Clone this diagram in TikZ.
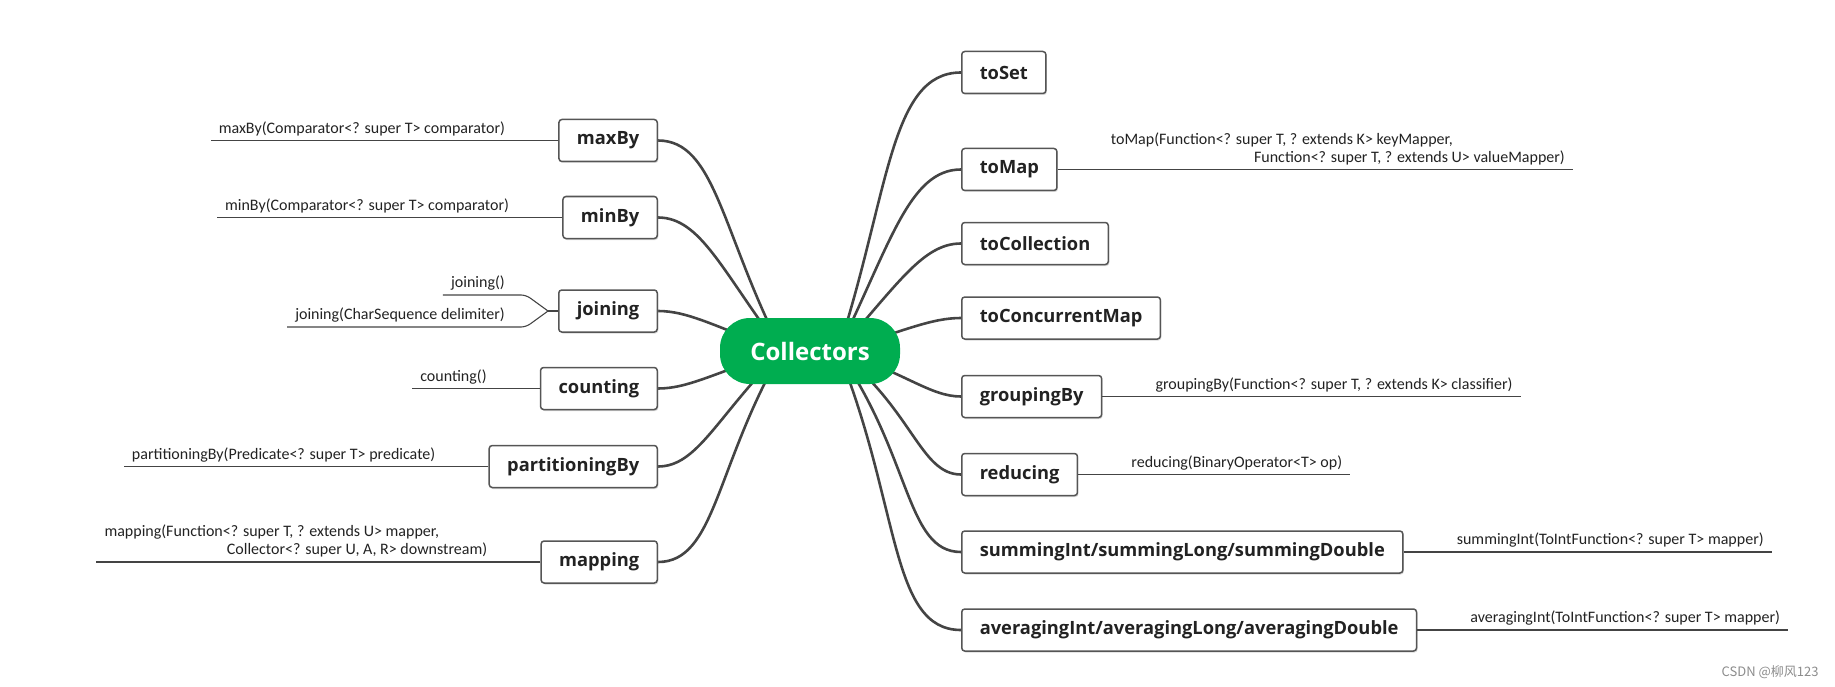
\documentclass[tikz,border=0pt]{standalone}
\usepackage{fontspec}
\setmainfont{Carlito}
\newfontfamily\topicfont{Open Sans}
\newfontfamily\cjkfont{Noto Sans CJK SC}
\usepackage{tikz}
\usetikzlibrary{positioning,backgrounds,shadows}
\definecolor{rootgreen}{RGB}{0,173,80}
\definecolor{linegray}{RGB}{68,68,68}
\definecolor{boxgray}{RGB}{85,85,85}
\definecolor{textdark}{RGB}{34,34,34}

\begin{document}
\begin{tikzpicture}[x=1pt, y=1pt,
    topic/.style={draw=boxgray, line width=1.5pt, rounded corners=3pt, fill=white,
                  minimum height=42pt, inner xsep=18pt, text=textdark,
                  font=\topicfont\bfseries\fontsize{18.3}{22}\selectfont,
                  drop shadow={shadow xshift=1pt, shadow yshift=-1.5pt, fill=black!30}},
    root/.style={fill=rootgreen, rounded corners=30pt, minimum width=180pt,
                 minimum height=66pt, text=white,
                 font=\topicfont\bfseries\fontsize{24}{28}\selectfont},
    lbl/.style={inner xsep=8pt, inner ysep=2pt, text depth=5pt, text=textdark,
                font=\fontsize{16}{18}\selectfont},
    branch/.style={draw=linegray, line width=2.6pt, out looseness=1.4, in looseness=0.6},
    sub/.style={draw=linegray, line width=1.1pt},
]
  \useasboundingbox (0,0) rectangle (1835,-687);
  % Root
  \node[root] (col) at (810,-351) {Collectors};
  \coordinate (cl) at ([xshift=-28pt]col.center);
  \coordinate (cr) at ([xshift=28pt]col.center);
  % Left topics
  \node[topic, anchor=east] (mx) at (658,-140.5) {maxBy};
  \node[topic, anchor=east] (mn) at (658,-217.5) {minBy};
  \node[topic, anchor=east] (jn) at (658,-311) {joining};
  \node[topic, anchor=east] (ct) at (658,-388.5) {counting};
  \node[topic, anchor=east] (pt) at (658,-466.5) {partitioningBy};
  \node[topic, anchor=east] (mp) at (658,-562) {mapping};
  % Right topics
  \node[topic, anchor=west] (ts) at (961,-72.5) {toSet};
  \node[topic, anchor=west] (tm) at (961,-169.5) {toMap};
  \node[topic, anchor=west] (tc) at (961,-243.5) {toCollection};
  \node[topic, anchor=west] (tcm) at (961,-318) {toConcurrentMap};
  \node[topic, anchor=west] (gb) at (961,-396.5) {groupingBy};
  \node[topic, anchor=west] (rd) at (961,-474.5) {reducing};
  \node[topic, anchor=west] (sm) at (961,-552) {summingInt/summingLong/summingDouble};
  \node[topic, anchor=west] (av) at (961,-630) {averagingInt/averagingLong/averagingDouble};
  % Branches
  \begin{scope}[on background layer]
    \draw[branch] (cl) to[out=117, in=0] (mx);
    \draw[branch] (cl) to[out=127, in=0] (mn);
    \draw[branch] (cl) to[out=160, in=0] (jn);
    \draw[branch] (cl) to[out=198, in=0] (ct);
    \draw[branch] (cl) to[out=225, in=0] (pt);
    \draw[branch] (cl) to[out=240, in=0] (mp);
    \draw[branch] (cr) to[out=72, in=180] (ts);
    \draw[branch] (cr) to[out=64, in=180] (tm);
    \draw[branch] (cr) to[out=48, in=180] (tc);
    \draw[branch] (cr) to[out=17, in=180] (tcm);
    \draw[branch] (cr) to[out=-18, in=180] (gb);
    \draw[branch] (cr) to[out=-38, in=180] (rd);
    \draw[branch] (cr) to[out=-55, in=180] (sm);
    \draw[branch] (cr) to[out=-68, in=180] (av);
  \end{scope}
  % Left labels
  \node[lbl, above left=0pt and 45pt of mx.west] (lmx) {maxBy(Comparator<? super T> comparator)};
  \draw[sub] (mx) -- (lmx.south west);
  \node[lbl, above left=0pt and 45pt of mn.west] (lmn) {minBy(Comparator<? super T> comparator)};
  \draw[sub] (mn) -- (lmn.south west);
  \coordinate[left=10pt of jn.west] (jfork);
  \node[lbl, anchor=south east] (ljn1) at ([shift={(-45,16)}]jn.west) {joining()};
  \node[lbl, anchor=south east] (ljn2) at ([shift={(-45,-16)}]jn.west) {joining(CharSequence delimiter)};
  \draw[sub] (jn) -- (jfork);
  \draw[sub, rounded corners=5pt] (jfork) -- ++(-22,16) -- (ljn1.south west);
  \draw[sub, rounded corners=5pt] (jfork) -- ++(-22,-16) -- (ljn2.south west);
  \node[lbl, above left=0pt and 45pt of ct.west] (lct) {counting()};
  \draw[sub] (ct) -- (lct.south west);
  \node[lbl, above left=0pt and 45pt of pt.west] (lpt) {partitioningBy(Predicate<? super T> predicate)};
  \draw[sub] (pt) -- (lpt.south west);
  \node[lbl, above left=0pt and 45pt of mp.west] (lmp) {\begin{tabular}[b]{@{}l@{}}mapping(Function<? super T, ? extends U> mapper,\hspace*{48pt}\\
    \hfill Collector<? super U, A, R> downstream)\end{tabular}};
  \draw[sub] (mp) -- (lmp.south west);
  % Right labels
  \node[lbl, above right=0pt and 45pt of tm.east] (ltm) {\begin{tabular}[b]{@{}l@{}}toMap(Function<? super T, ? extends K> keyMapper,\hspace*{112pt}\\
    \hfill Function<? super T, ? extends U> valueMapper)\end{tabular}};
  \draw[sub] (tm) -- (ltm.south east);
  \node[lbl, above right=0pt and 45pt of gb.east] (lgb) {groupingBy(Function<? super T, ? extends K> classifier)};
  \draw[sub] (gb) -- (lgb.south east);
  \node[lbl, above right=0pt and 45pt of rd.east] (lrd) {reducing(BinaryOperator<T> op)};
  \draw[sub] (rd) -- (lrd.south east);
  \node[lbl, above right=0pt and 45pt of sm.east] (lsm) {summingInt(ToIntFunction<? super T> mapper)};
  \draw[sub] (sm) -- (lsm.south east);
  \node[lbl, above right=0pt and 45pt of av.east] (lav) {averagingInt(ToIntFunction<? super T> mapper)};
  \draw[sub] (av) -- (lav.south east);
  % Watermark
  \node[anchor=east, text=black!45, font=\cjkfont\fontsize{13}{15}\selectfont] (mark) at (1822,-672) {CSDN @柳风123};
\end{tikzpicture}
\end{document}
